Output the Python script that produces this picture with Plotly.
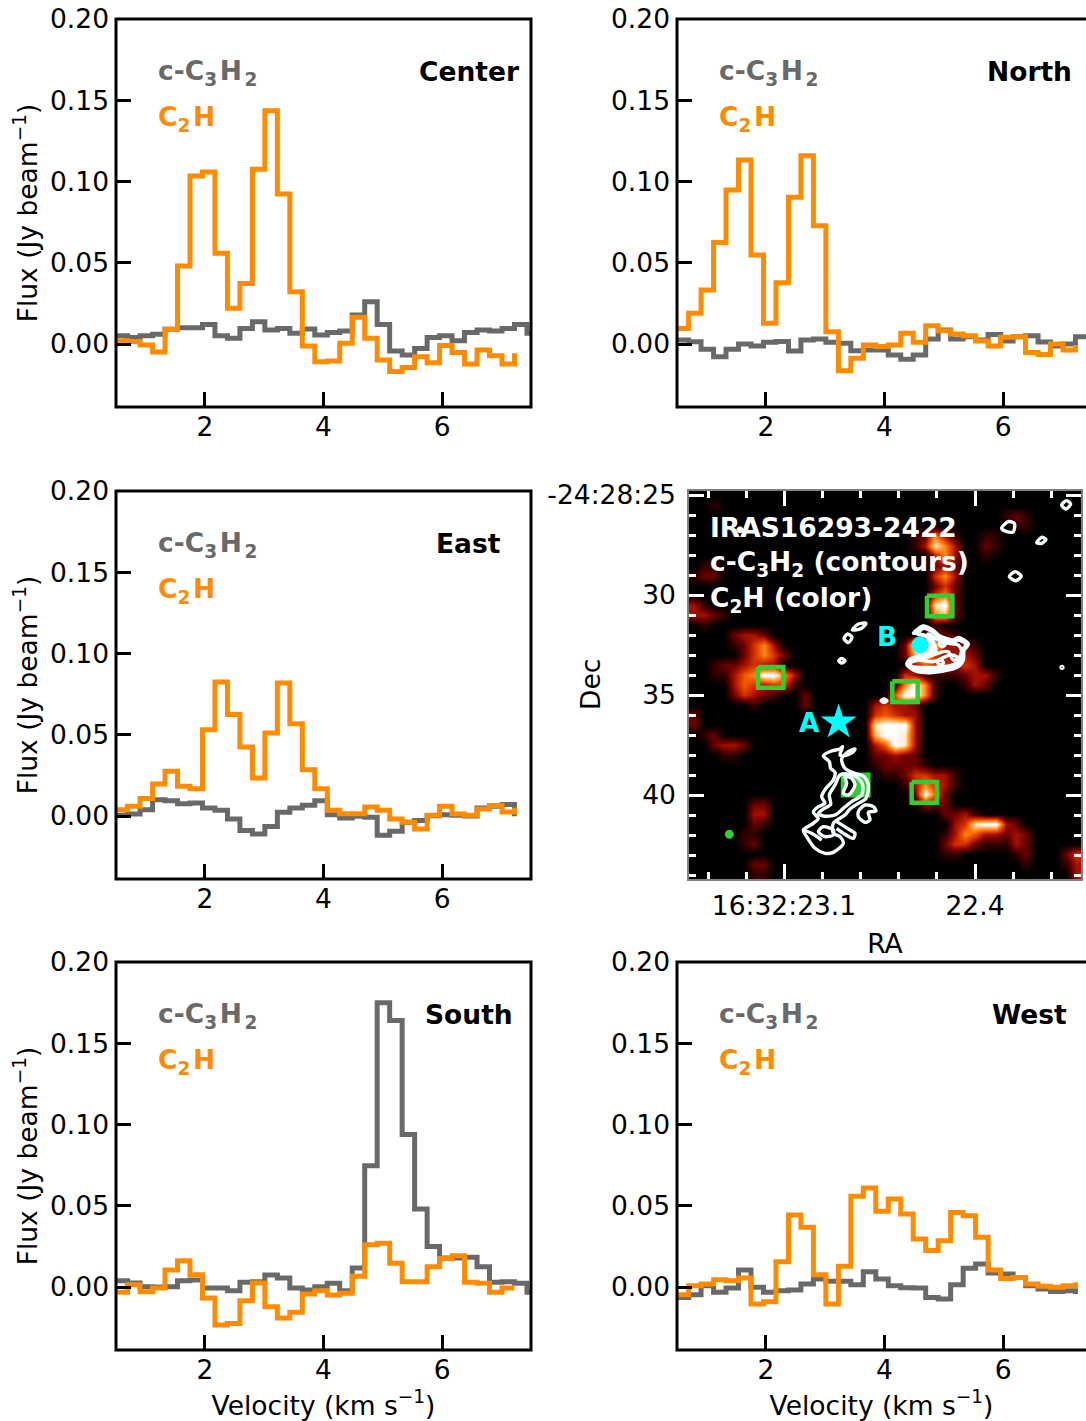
import plotly.graph_objects as go

W, H = 1086, 1421
FONT = "DejaVu Sans"
FS = 26.5
GRAY = "#696969"
ORANGE = "#ff8c00"
CYAN = "#00ffff"
GREEN = "#32cd32"

velocity_edges = [0.485, 0.696, 0.906, 1.117, 1.327, 1.538, 1.748, 1.959, 2.169, 2.380, 2.590, 2.801,
                  3.011, 3.222, 3.432, 3.643, 3.853, 4.064, 4.274, 4.485, 4.695, 4.906, 5.116, 5.327,
                  5.537, 5.748, 5.958, 6.169, 6.379, 6.590, 6.800, 7.011, 7.221, 7.432, 7.642]

center_c2h = [.002, .0015, -.0006, -.005, .009, .048, .1034, .1058, .0558, .022, .0373, .1075, .1436, .0923, .0322,
              -.0012, -.0109, -.0105, .0004, .0164, .0035, -.0098, -.017, -.0144, -.0078, -.0115, -.001, -.0053,
              -.0123, -.0037, -.0072, -.0123, -.0057]
center_c3h2 = [.005, .004, .005, .006, .009, .010, .010, .012, .005, .0035, .0096, .0137, .0086, .0096, .0066, .0092,
               .0055, .007, .008, .0178, .026, .012, -.0043, -.0068, -.0027, .004, .005, .002, .007, .0086, .008,
               .0096, .012, .0066, .0066]
north_c2h = [.0096, .0189, .0332, .0624, .0948, .1132, .0548, .0127, .0377, .0903, .1159, .0728, .0076, -.0164, -.0088,
             -.0006, -.0016, -.0006, .0066, .001, .0113, .0082, .0062, .0051, .0018, -.0012, .0041, .0045, -.0053,
             -.0064, 0, -.0037, -.0006]
north_c3h2 = [.0025, .0014, -.0033, -.0078, -.0033, 0, -.0012, .001, .0016, -.0043, .0025, .003, .001, .0004, -.0041,
              -.0037, -.0037, -.0068, -.0094, -.0068, .003, .0086, .003, .0045, .0025, .0059, .0018, .0045, .0051,
              .0012, -.0012, 0, .0045, .0045, .0045]
east_c2h = [.0039, .006, .0107, .0197, .0275, .0183, .0168, .0531, .0825, .0624, .0425, .0234, .0511, .0818, .0568,
            .0285, .0168, .0035, .0014, .0014, .0055, .0035, -.0018, -.0039, -.008, .0004, .006, .0012, .0004, .0043,
            .0064, .0025, .005]
east_c3h2 = [.0004, .0012, .0039, .01, .0094, .0076, .008, .0049, .0035, -.0018, -.009, -.0111, -.0064, .0023, .0049,
             .0066, .0094, .0008, -.0012, -.0002, -.0008, -.0119, -.0094, -.0039, -.0027, .0002, .0008, .0004, 0,
             .0049, .006, .007, -.0002]
south_c2h = [-.0033, .0014, -.0029, -.0006, .0105, .0162, .0076, -.0068, -.0234, -.0224, -.0084, .0025, -.0121, -.0191,
             -.0156, -.0043, -.0023, -.0049, -.0039, .0066, .026, .0269, .0146, .0033, .0033, .0125, .0176, .0193,
             .0029, .0023, -.0033, -.0006, -.0006]
south_c3h2 = [.0039, .0025, .0002, 0, .0002, .0039, .0043, -.0006, -.0006, -.0023, .0029, .0033, .0074, .0055, -.0006,
              -.0018, .0002, .0023, -.0023, .0117, .0746, .175, .164, .0938, .048, .025, .0178, .0178, .0183, .0125,
              .0029, .0033, .0023, -.0033, -.0033]
west_c2h = [-.0047, .0008, .0018, .0045, .0039, .0055, -.0105, -.009, .0156, .0443, .0367, .0076, -.0105, .0127, .0558,
            .0609, .0466, .0542, .0449, .0295, .0224, .0285, .0459, .0439, .0306, .0105, .0053, .0059, .0018, .0004,
            -.0002, .0008, .0029]
west_c3h2 = [-.0064, -.0047, .0008, -.0033, -.0006, .0105, -.0002, -.0033, -.0023, -.0018, .0018, .0049, .0035, .0035,
             .0014, .0094, .0049, .0008, -.0004, -.0006, -.0064, -.0074, .0014, .0115, .0142, .0086, .008, .0059, .0008,
             -.0012, -.0027, -.0023, -.0043]

# C2H emission map on a coarse 39 x 39 grid (0 = black, 9 = white)
c2h_map_rows = [
    "0000000000 0000000000 0000000000 000000000",
    "0010000000 0000000000 0000000000 000000000",
    "0000000000 0000000000 0000000000 012100000",
    "0000000000 0000000000 0000000000 001100000",
    "0000000000 0000000000 0012631001 100000000",
    "0000000000 0000000000 0013863002 100000000",
    "0000000000 0000000000 0000363001 000000000",
    "0110000000 0000000000 0000232000 000000000",
    "1220000000 0000000000 0000463000 000000000",
    "0000000000 0000000000 0000242000 000000000",
    "0000000000 0000000000 0000462000 000000000",
    "3100000000 0000000000 0000892000 000000000",
    "3321000000 0000000000 0000672000 000000000",
    "0100000000 0000000000 0000100000 000000000",
    "0000233200 0000000000 0002221000 000000000",
    "0000124630 0000000000 0299833210 000000000",
    "0000024642 0000000000 0279433320 000000000",
    "0012234330 0000000000 0035443430 000000000",
    "0011356996 3000000000 0431111233 100000000",
    "0000354344 1000000000 1696100132 000000000",
    "0000243210 0200000000 5996100000 000000000",
    "0000001000 0200000034 3320000000 000000000",
    "2000000000 0000000045 4330000000 000000000",
    "2000000000 0000000089 9930000000 000000000",
    "0120000000 0000000079 9830000000 000000000",
    "0023320000 0000000035 9830000000 000000000",
    "0001100000 0000000022 3220000000 000000000",
    "0000000000 0000000012 2221000000 000000000",
    "0000000000 0000000001 1244331000 000000000",
    "0000000000 0000000000 0136431000 000000000",
    "0000000000 0000000000 0029520000 000000000",
    "0000002200 0000000000 0003220000 000000000",
    "0000003300 0000000000 0000022310 000000000",
    "0000002100 0000000000 0000003489 932000000",
    "0000011000 0000000000 0000013653 323200000",
    "0000012000 0000000000 0000024421 113200000",
    "0000000000 0000000000 0000011000 001200024",
    "0000002200 0000000000 0000000000 000100013",
    "0000001100 0000000000 0000000000 000000003",
]

# c-C3H2 contours, in image units
contours = [
    [(700,460),(730,438),(758,450),(780,468),(820,480),(835,472),(865,492),(852,512),(850,540),(830,563),(790,573),(735,578),(700,570),(680,552),(692,536),(730,525),(760,515),(755,490),(748,475),(715,460),(700,460)],
    [(712,462),(732,445),(760,458),(782,476),(820,487),(836,480),(858,494),(845,512),(842,538),(825,556),(788,566),(735,570),(702,562),(688,552),(700,542),(735,532),(768,520),(762,492),(752,470),(712,462)],
    [(745,462),(770,478),(805,490),(835,495),(845,515),(835,535),(820,540),(805,515),(790,515),(765,522),(750,500),(745,462)],
    [(690,550),(715,540),(760,545),(810,525),(830,530),(835,545),(815,555),(770,562),(720,562),(695,560),(690,550)],
    [(778,490),(790,487),(795,495),(785,500),(778,490)],
    [(773,545),(785,540),(790,550),(778,555),(773,545)],
    [(430,827),(448,845),(452,865),(465,877),(460,900),(438,925),(425,950),(435,970),(415,980),(400,997),(415,1015),(400,1030),(370,1050),(380,1070),(405,1105),(435,1120),(460,1117),(490,1090),(480,1070),(460,1060),(460,1030),(495,1005),(510,987),(535,970),(558,955),(565,915),(552,890),(525,880),(495,865),(485,837),(505,815),(525,807),(520,815),(495,827),(480,825),(488,800),(480,807),(455,813),(430,827)],
    [(480,885),(465,915),(448,945),(452,973),(430,987),(415,1000),(430,1008),(465,1005),(490,985),(515,965),(545,945),(548,915),(535,895),(510,883),(480,885)],
    [(495,890),(515,895),(525,915),(505,945),(490,940),(500,910),(495,890)],
    [(535,995),(555,975),(580,980),(588,993),(565,997),(570,1020),(555,1027),(535,1010),(535,995)],
    [(415,1055),(430,1040),(460,1050),(460,1065),(435,1070),(415,1055)],
    [(470,1025),(510,1050),(525,1060),(520,1075),(490,1060),(470,1045)],
    [(370,1050),(395,1060),(425,1080)],
    [(1145,75),(1160,62),(1172,72),(1158,87),(1145,75)],
    [(965,145),(985,125),(1003,130),(1000,155),(980,155),(965,145)],
    [(1070,188),(1085,172),(1098,178),(1085,190),(1070,188)],
    [(988,290),(1005,275),(1024,288),(1008,302),(988,290)],
    [(517,450),(535,432),(558,430),(545,445),(517,450)],
    [(492,475),(503,462),(516,472),(505,488),(492,475)],
    [(476,542),(485,535),(495,543),(485,549),(476,542)],
    [(603,662),(612,657),(621,662),(612,667),(603,662)],
    [(1143,562),(1147,559),(1149,563),(1145,565),(1143,562)],
    [(174,150),(180,144),(186,150),(180,155),(174,150)],
]
HOLE_CONTOUR = 8

box_col = [779, 272, 675, 527, 733]
box_row = [378, 592, 635, 915, 937]
box_filled = [False, False, False, True, False]
box_half_w, box_half_h = 38, 31

img_x_ticks = [312, 885]
img_x_labels = ["16:32:23.1", "22.4"]
img_x_minor = [84, 198, 427, 541, 655, 770, 1000, 1113]
img_y_ticks = [45, 345, 645, 945]
img_y_labels = ["-24:28:25", "30", "35", "40"]
img_y_minor = [105, 165, 225, 285, 405, 465, 525, 585, 705, 765, 825, 885, 1005, 1065, 1125, 1185]

panels = [
    ("Center", center_c3h2, center_c2h, 116, 19),
    ("North", north_c3h2, north_c2h, 677, 19),
    ("East", east_c3h2, east_c2h, 116, 491),
    ("South", south_c3h2, south_c2h, 116, 962),
    ("West", west_c3h2, west_c2h, 677, 962),
]
PW, PH = 415, 388
VEL_PER_PX = 7.0 / 415
FLUX_BOTTOM = 0.2 - PH / 1625

fig = go.Figure()
layout = {}
annotations = []
shapes = []


def fx(px):
    return px / W


def fy(px):
    return 1 - px / H


for n, (name, gray, orange, left, top) in enumerate(panels, start=1):
    sfx = "" if n == 1 else str(n)
    right = min(left + PW, W)
    xr = [0.5, 0.5 + (right - left) * VEL_PER_PX]
    bottom_row = top > 900
    xa = dict(domain=[fx(left), fx(right)], range=xr, anchor=f"y{sfx}",
              tickvals=[2, 4, 6], ticks="inside", ticklen=15, tickwidth=3, tickcolor="black",
              showline=False, showgrid=False, zeroline=False,
              tickfont=dict(family=FONT, size=FS, color="black"), ticklabelstandoff=1)
    ya = dict(domain=[fy(top + PH), fy(top)], range=[FLUX_BOTTOM, 0.2], anchor=f"x{sfx}",
              tickvals=[0, .05, .10, .15, .20], tickformat=".2f", ticks="inside", ticklen=15, tickwidth=3,
              tickcolor="black", showline=False, showgrid=False, zeroline=False,
              tickfont=dict(family=FONT, size=FS, color="black"), ticklabelstandoff=6)
    if bottom_row:
        xa["title"] = dict(text="Velocity (km s<sup>−1</sup>)", font=dict(family=FONT, size=FS, color="black"), standoff=12)
    if left < 300:
        ya["title"] = dict(text="Flux (Jy beam<sup>−1</sup>)", font=dict(family=FONT, size=FS, color="black"), standoff=4)
    layout[f"xaxis{sfx}"] = xa
    layout[f"yaxis{sfx}"] = ya
    shapes.append(dict(type="rect", xref=f"x{sfx} domain", yref=f"y{sfx} domain", x0=0, y0=0, x1=1 if left < 300 else 1.03, y1=1,
                       line=dict(color="black", width=3), fillcolor="rgba(0,0,0,0)", layer="above"))
    for vals, col in ((gray, GRAY), (orange, ORANGE)):
        fig.add_trace(go.Scatter(x=velocity_edges[:len(vals)], y=vals, mode="lines", xaxis=f"x{sfx}", yaxis=f"y{sfx}",
                                 line=dict(color=col, width=5, shape="hv"), showlegend=False, hoverinfo="skip"))
    for text, col, yv in (("c-C<sub>3</sub>\u200aH\u200a<sub>2</sub>", GRAY, .167), ("C<sub>2</sub>\u200aH", ORANGE, .139)):
        annotations.append(dict(text=text, x=1.18, y=yv, xref=f"x{sfx}", yref=f"y{sfx}", xanchor="left", yanchor="middle",
                                showarrow=False, font=dict(family=FONT, size=FS, color=col, weight="bold")))
    annotations.append(dict(text=name, x=6.45, y=.168, xref=f"x{sfx}", yref=f"y{sfx}", xanchor="center", yanchor="middle",
                            showarrow=False, font=dict(family=FONT, size=FS, color="black", weight="bold")))

# image panel
m = 6
layout[f"xaxis{m}"] = dict(domain=[fx(689), fx(1081)], range=[27, 1203], anchor=f"y{m}", tickmode="array",
                           tickvals=img_x_ticks, ticktext=img_x_labels, ticks="inside", ticklen=15, tickwidth=3,
                           tickcolor="white", showline=True, linewidth=1.5, linecolor="#808080", mirror="allticks",
                           showgrid=False, zeroline=False,
                           minor=dict(tickmode="array", tickvals=img_x_minor, ticks="inside", ticklen=7, tickwidth=3,
                                      tickcolor="white", showgrid=False),
                           tickfont=dict(family=FONT, size=FS, color="black"), ticklabelstandoff=2,
                           title=dict(text="RA", font=dict(family=FONT, size=FS, color="black"), standoff=15))
layout[f"yaxis{m}"] = dict(domain=[fy(879), fy(491)], range=[1197, 33], anchor=f"x{m}", tickmode="array",
                           tickvals=img_y_ticks, ticktext=img_y_labels, ticks="inside", ticklen=15, tickwidth=3,
                           tickcolor="white", showline=True, linewidth=1.5, linecolor="#808080", mirror="allticks",
                           showgrid=False, zeroline=False,
                           minor=dict(tickmode="array", tickvals=img_y_minor, ticks="inside", ticklen=7, tickwidth=3,
                                      tickcolor="white", showgrid=False),
                           tickfont=dict(family=FONT, size=FS, color="black"), ticklabelstandoff=6)
annotations.append(dict(text="Dec", x=fx(590), y=fy(684), xref="paper", yref="paper", xanchor="center", yanchor="middle",
                        textangle=-90, showarrow=False, font=dict(family=FONT, size=FS, color="black")))

z = [[int(ch) for ch in row.replace(" ", "")] for row in c2h_map_rows]
fig.add_trace(go.Heatmap(z=z, x0=27 + 15.08, dx=30.15, y0=33 + 14.92, dy=29.85, xaxis=f"x{m}", yaxis=f"y{m}",
                         zmin=0, zmax=9, zsmooth="best", showscale=False, hoverinfo="skip",
                         colorscale=[[0, "#000000"], [.11, "#300000"], [.22, "#6a0000"], [.33, "#a01000"],
                                     [.44, "#d03000"], [.56, "#f05a00"], [.67, "#ff8a20"], [.78, "#ffb860"],
                                     [.89, "#ffe8d0"], [1, "#ffffff"]]))
for c, r, filled in zip(box_col, box_row, box_filled):
    xs = [c - box_half_w, c + box_half_w, c + box_half_w, c - box_half_w, c - box_half_w]
    ys = [r - box_half_h, r - box_half_h, r + box_half_h, r + box_half_h, r - box_half_h]
    fig.add_trace(go.Scatter(x=xs, y=ys, mode="lines", xaxis=f"x{m}", yaxis=f"y{m}", hoverinfo="skip", showlegend=False,
                             line=dict(color=GREEN, width=4.5), fill="toself" if filled else "none", fillcolor=GREEN))
for i, loop in enumerate(contours):
    fig.add_trace(go.Scatter(x=[p[0] for p in loop], y=[p[1] for p in loop], mode="lines", xaxis=f"x{m}", yaxis=f"y{m}",
                             hoverinfo="skip", showlegend=False, fill="toself" if i == HOLE_CONTOUR else "none",
                             fillcolor="black", line=dict(color="#f4ffff", width=3.4, shape="spline", smoothing=0.8)))
fig.add_trace(go.Scatter(x=[476], y=[727], mode="markers", xaxis=f"x{m}", yaxis=f"y{m}", hoverinfo="skip", showlegend=False,
                         marker=dict(symbol="star", size=27, color=CYAN, line=dict(width=0))))
fig.add_trace(go.Scatter(x=[720], y=[495], mode="markers", xaxis=f"x{m}", yaxis=f"y{m}", hoverinfo="skip", showlegend=False,
                         marker=dict(symbol="circle", size=17, color=CYAN, line=dict(width=0))))
fig.add_trace(go.Scatter(x=[148], y=[1063], mode="markers", xaxis=f"x{m}", yaxis=f"y{m}", hoverinfo="skip", showlegend=False,
                         marker=dict(symbol="circle", size=9, color=GREEN, line=dict(width=0))))

for text, yv in (("IRAS16293-2422", 143), ("c-C<sub>3</sub>H<sub>2</sub> (contours)", 251), ("C<sub>2</sub>H (color)", 357)):
    annotations.append(dict(text=text, x=84, y=yv, xref=f"x{m}", yref=f"y{m}", xanchor="left", yanchor="middle",
                            showarrow=False, font=dict(family=FONT, size=FS, color="white", weight="bold")))
for text, xv, yv in (("A", 387, 727), ("B", 620, 470)):
    annotations.append(dict(text=text, x=xv, y=yv, xref=f"x{m}", yref=f"y{m}", xanchor="center", yanchor="middle",
                            showarrow=False, font=dict(family=FONT, size=FS, color=CYAN, weight="bold")))

fig.update_layout(width=W, height=H, margin=dict(l=0, r=0, t=0, b=0, autoexpand=False), paper_bgcolor="white",
                  plot_bgcolor="white", showlegend=False, annotations=annotations, shapes=shapes,
                  font=dict(family=FONT, size=FS), **layout)
fig.write_html("out.html", config=dict(displayModeBar=False),
               post_script="document.body.style.margin='0';document.documentElement.style.overflow='hidden';")
